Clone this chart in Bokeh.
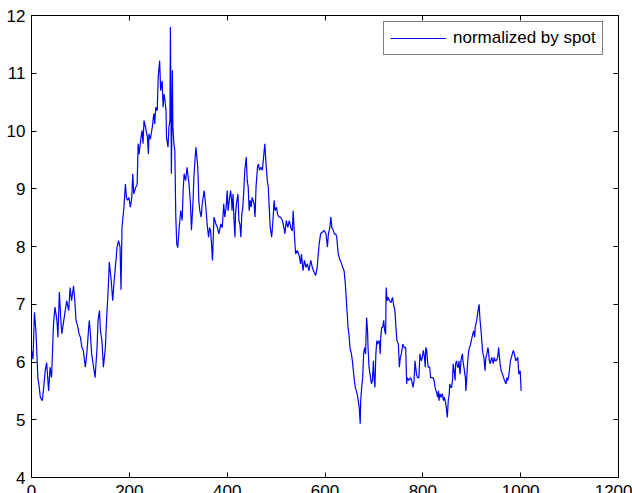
from bokeh.plotting import figure
from bokeh.models import Range1d, LinearAxis, FixedTicker, Legend, LegendItem, ColumnDataSource
from bokeh.embed import file_html
from bokeh.resources import INLINE

# Normalized series (value divided by spot), sampled along the day index
day = [0, 3, 6, 9, 11, 13, 16, 18, 22, 25, 28, 31, 35, 38, 41, 45, 48, 52, 54, 57,
       60, 62, 66, 69, 72, 76, 79, 82, 86, 89, 91, 95, 97, 100, 103, 106, 110, 113, 115, 118,
       120, 123, 127, 130, 134, 136, 139, 141, 144, 147, 151, 154, 157, 159, 163, 166, 169, 172, 175, 178,
       181, 183, 185, 189, 192, 194, 196, 199, 202, 205, 207, 209, 213, 216, 218, 220, 223, 226, 228, 230,
       233, 237, 239, 240, 243, 247, 250, 252, 254, 257, 259, 262, 264, 267, 269, 271, 273, 275, 276, 279,
       281, 283, 284, 286, 288, 289, 291, 293, 295, 297, 299, 302, 305, 308, 310, 312, 315, 318, 322, 325,
       327, 330, 332, 336, 338, 340, 342, 344, 347, 349, 353, 355, 357, 359, 362, 364, 366, 368, 370, 373,
       377, 380, 383, 387, 390, 393, 395, 398, 400, 402, 405, 407, 409, 410, 412, 414, 416, 417, 419, 422,
       424, 426, 428, 430, 432, 434, 436, 439, 441, 443, 445, 447, 449, 451, 455, 457, 459, 462, 464, 466,
       469, 472, 475, 477, 479, 482, 484, 486, 488, 491, 494, 496, 498, 501, 503, 506, 509, 513, 516, 518,
       521, 524, 527, 530, 533, 535, 537, 539, 540, 543, 546, 548, 550, 552, 555, 558, 561, 564, 567, 571,
       574, 578, 581, 584, 588, 591, 595, 598, 602, 605, 607, 610, 612, 614, 617, 619, 622, 624, 627, 631,
       634, 636, 639, 641, 642, 645, 646, 647, 649, 651, 654, 656, 658, 660, 662, 664, 666, 668, 670, 672,
       673, 675, 677, 679, 681, 683, 685, 687, 688, 690, 692, 695, 697, 699, 700, 702, 704, 706, 707, 711,
       713, 714, 716, 718, 720, 722, 724, 725, 727, 729, 732, 735, 738, 740, 743, 745, 747, 750, 752, 754,
       756, 759, 762, 765, 767, 768, 771, 775, 777, 780, 782, 784, 787, 789, 792, 794, 797, 799, 801, 803,
       805, 806, 808, 809, 811, 814, 816, 818, 821, 823, 825, 827, 829, 830, 832, 833, 835, 837, 840, 842,
       844, 847, 848, 850, 852, 854, 855, 857, 859, 861, 862, 864, 866, 867, 869, 871, 873, 874, 876, 878,
       879, 881, 882, 884, 887, 888, 889, 891, 893, 895, 897, 899, 902, 904, 906, 907, 910, 912, 914, 915,
       917, 919, 921, 922, 923, 925, 927, 929, 931, 933, 934, 936, 938, 939, 941, 944, 946, 948, 950, 953,
       955, 956, 958, 960, 963, 965, 967, 970, 972, 974, 977, 979, 981, 983, 985, 987, 990, 994, 995, 996,
       999, 1001]

normalized = [6.20, 6.05, 6.86, 6.54, 6.14, 5.73, 5.55, 5.39, 5.33, 5.56, 5.85, 5.99, 5.50, 5.91, 5.73, 6.66, 6.95, 6.72, 6.43, 7.21,
              6.72, 6.49, 6.72, 6.89, 7.06, 6.89, 7.29, 7.06, 7.32, 7.01, 6.72, 6.60, 6.49, 6.43, 6.25, 6.20, 5.91, 6.14, 6.37, 6.72,
              6.54, 6.14, 5.91, 5.73, 6.25, 6.72, 6.89, 6.54, 6.37, 5.91, 6.25, 6.83, 7.29, 7.73, 7.41, 7.06, 7.41, 7.70, 7.99, 8.10,
              7.99, 7.25, 8.33, 8.68, 9.08, 8.85, 8.80, 8.85, 8.68, 8.85, 9.26, 8.91, 9.02, 9.08, 9.78, 9.60, 9.83, 10.01, 9.78, 10.18,
              10.07, 9.89, 9.60, 9.95, 9.86, 10.07, 10.30, 10.12, 10.41, 10.35, 10.93, 11.22, 10.70, 10.87, 10.41, 10.64, 10.52, 10.35, 9.89, 9.72,
              10.07, 10.18, 11.80, 9.26, 11.05, 10.07, 9.78, 9.66, 8.51, 8.04, 7.98, 8.33, 8.62, 8.45, 8.97, 9.26, 9.14, 9.37, 9.08, 8.74,
              8.28, 8.74, 9.20, 9.72, 9.55, 9.37, 8.80, 8.62, 8.51, 8.74, 8.97, 8.80, 8.62, 8.39, 8.16, 8.33, 8.28, 8.04, 7.76, 8.51,
              8.39, 8.33, 8.22, 8.39, 8.33, 8.74, 8.51, 8.68, 8.97, 8.62, 8.85, 8.97, 8.80, 8.62, 8.91, 8.45, 8.16, 8.56, 8.74, 8.91,
              8.45, 8.39, 8.16, 8.56, 8.68, 8.97, 9.32, 9.55, 9.14, 9.03, 8.62, 8.80, 8.68, 8.85, 8.74, 8.51, 9.03, 9.37, 9.43, 9.32,
              9.37, 9.32, 9.60, 9.78, 9.49, 9.14, 9.03, 8.68, 8.33, 8.16, 8.51, 8.80, 8.62, 8.68, 8.56, 8.51, 8.51, 8.45, 8.33, 8.22,
              8.45, 8.33, 8.45, 8.33, 8.27, 8.62, 8.27, 7.99, 7.87, 7.93, 7.87, 7.81, 7.70, 7.87, 7.58, 7.76, 7.64, 7.70, 7.58, 7.76,
              7.64, 7.55, 7.50, 7.64, 8.04, 8.22, 8.25, 8.28, 8.22, 7.99, 8.22, 8.33, 8.51, 8.33, 8.28, 8.22, 8.22, 8.16, 7.87, 7.76,
              7.70, 7.64, 7.58, 7.41, 7.29, 6.89, 6.77, 6.60, 6.48, 6.25, 6.14, 6.02, 5.85, 5.68, 5.56, 5.50, 5.44, 5.33, 5.21, 4.93,
              5.33, 5.56, 5.73, 6.14, 6.25, 6.14, 6.77, 6.54, 6.25, 5.91, 5.79, 5.62, 5.68, 6.02, 5.79, 5.56, 6.14, 6.37, 6.31, 6.37,
              6.14, 6.43, 6.60, 6.60, 6.72, 6.54, 6.48, 7.29, 7.06, 7.12, 7.06, 7.03, 7.12, 7.00, 6.89, 6.60, 6.37, 6.31, 5.91, 6.08,
              6.14, 6.31, 6.25, 6.25, 5.62, 5.73, 5.68, 5.73, 5.68, 5.56, 5.68, 6.02, 5.79, 5.73, 5.73, 6.14, 6.02, 6.08, 6.20, 6.11,
              5.91, 6.25, 6.20, 6.08, 5.91, 5.91, 5.73, 5.73, 5.73, 5.68, 5.56, 5.50, 5.45, 5.39, 5.50, 5.33, 5.45, 5.39, 5.45, 5.33,
              5.39, 5.27, 5.21, 5.04, 5.33, 5.45, 5.62, 5.56, 5.56, 5.73, 5.97, 5.85, 5.68, 5.97, 6.02, 5.91, 5.91, 6.02, 5.79, 6.02,
              6.08, 6.14, 6.02, 5.91, 5.73, 5.50, 5.62, 5.91, 6.14, 6.25, 6.28, 6.37, 6.48, 6.54, 6.43, 6.60, 6.72, 6.83, 6.95, 7.00,
              6.72, 6.54, 6.31, 6.20, 6.14, 6.08, 5.85, 6.08, 6.14, 6.25, 6.20, 6.02, 5.97, 6.02, 6.08, 5.97, 6.08, 6.02, 6.02, 6.08,
              6.25, 6.14, 5.97, 5.85, 5.79, 5.73, 5.68, 5.62, 5.73, 5.68, 5.85, 6.02, 6.08, 6.14, 6.20, 6.14, 6.02, 6.08, 5.97, 5.79,
              5.85, 5.50]

x_ticks = [0, 200, 400, 600, 800, 1000, 1200]
y_ticks = [4, 5, 6, 7, 8, 9, 10, 11, 12]
series_label = "normalized by spot"

FONT = "Liberation Sans"
FONT_SIZE = "17px"

p = figure(width=632, height=507, output_backend="svg", toolbar_location=None,
           x_range=Range1d(0, 1200), y_range=Range1d(4, 12),
           min_border_left=31, min_border_right=14, min_border_top=15, min_border_bottom=30,
           background_fill_color="white", border_fill_color="white")
p.grid.visible = False
p.outline_line_color = "black"
p.outline_line_width = 1

source = ColumnDataSource(data=dict(day=day, value=normalized))
r = p.line("day", "value", source=source, line_color="#0000ff", line_width=1.2)


def style_axis(ax, ticks, show_labels):
    ax.ticker = FixedTicker(ticks=ticks)
    ax.minor_tick_line_color = None
    ax.major_tick_in = 5
    ax.major_tick_out = 0
    ax.major_tick_line_color = "black"
    ax.axis_line_color = "black"
    ax.major_label_text_font = FONT
    if show_labels:
        ax.major_label_text_font_size = FONT_SIZE
        ax.major_label_text_color = "black"
        ax.major_label_standoff = 6
    else:
        # mirrored box ticks only: labels are not painted at all
        ax.major_label_text_font_size = "1px"
        ax.major_label_text_color = None
        ax.major_label_standoff = 0


style_axis(p.xaxis[0], x_ticks, True)
style_axis(p.yaxis[0], y_ticks, True)
p.xaxis[0].major_label_standoff = 7

top_axis = LinearAxis()
style_axis(top_axis, x_ticks, False)
p.add_layout(top_axis, "above")
right_axis = LinearAxis()
style_axis(right_axis, y_ticks, False)
p.add_layout(right_axis, "right")

legend = Legend(items=[LegendItem(label=series_label, renderers=[r])],
                location=(352, 422), margin=0, padding=6, spacing=0,
                glyph_width=56, glyph_height=16, label_height=16, label_standoff=7,
                label_text_font=FONT, label_text_font_size=FONT_SIZE, label_text_color="black",
                border_line_color="black", border_line_width=1,
                background_fill_color="white", background_fill_alpha=1.0)
p.add_layout(legend, "center")

open("out.html", "w").write(file_html(p, INLINE))
